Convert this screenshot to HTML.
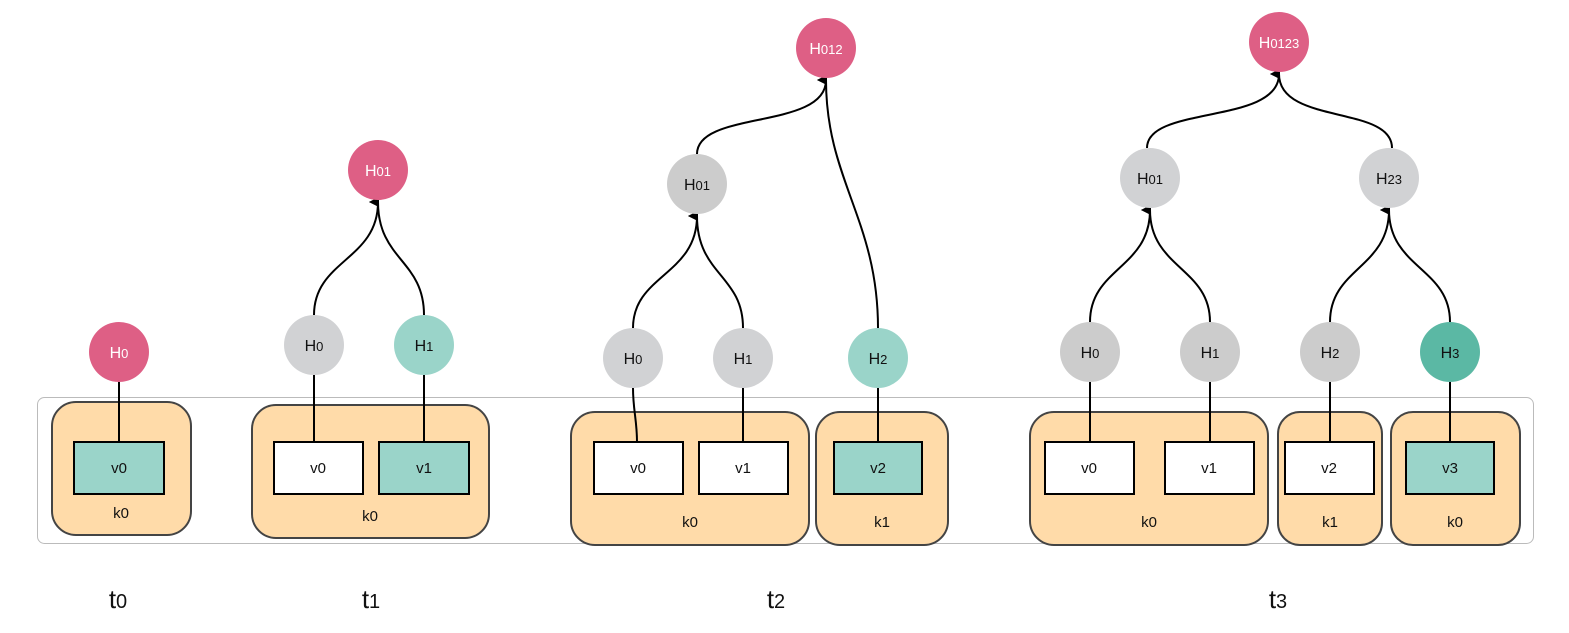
<!DOCTYPE html>
<html><head><meta charset="utf-8"><style>body{margin:0;background:#fff}svg{display:block}text{font-family:"Liberation Sans",sans-serif}</style></head><body>
<svg width="1569" height="633" viewBox="0 0 1569 633" xmlns="http://www.w3.org/2000/svg">
<defs><marker id="a" markerWidth="10" markerHeight="10" refX="5" refY="9" orient="auto" markerUnits="userSpaceOnUse" viewBox="0 0 10 10"><path d="M0,10 L5,0 L10,10 Z" fill="#000"/></marker></defs>
<rect x="37.5" y="397.5" width="1496" height="146" rx="7" fill="none" stroke="#bbb"/>
<g fill="#FFDBA9" stroke="#444" stroke-width="2">
<rect x="52" y="402" width="139" height="133" rx="24"/>
<rect x="252" y="405" width="237" height="133" rx="24"/>
<rect x="571" y="412" width="238" height="133" rx="24"/>
<rect x="816" y="412" width="132" height="133" rx="24"/>
<rect x="1030" y="412" width="238" height="133" rx="24"/>
<rect x="1278" y="412" width="104" height="133" rx="22"/>
<rect x="1391" y="412" width="129" height="133" rx="22"/>
</g>
<g stroke="#000" stroke-width="2" fill="none">
<line x1="119" y1="382" x2="119" y2="442"/>
<line x1="314" y1="375" x2="314" y2="442"/><line x1="424" y1="375" x2="424" y2="442"/>
<path d="M633,388 C633,410 637,420 637,442"/><line x1="743" y1="388" x2="743" y2="442"/><line x1="878" y1="388" x2="878" y2="442"/>
<line x1="1090" y1="382" x2="1090" y2="442"/><line x1="1210" y1="382" x2="1210" y2="442"/><line x1="1330" y1="382" x2="1330" y2="442"/><line x1="1450" y1="382" x2="1450" y2="442"/>
<g marker-end="url(#a)">
<path d="M314,315 C314,260 378,260 378,202"/><path d="M424,315 C424,260 378,260 378,202"/>
<path d="M633,328 C633,275 697,275 697,216"/><path d="M743,328 C743,275 697,275 697,216"/>
<path d="M697,154 C697,110 826,130 826,80"/><path d="M878,328 C878,220 826,180 826,80"/>
<path d="M1090,322 C1090,268 1150,268 1150,210"/><path d="M1210,322 C1210,268 1150,268 1150,210"/>
<path d="M1330,322 C1330,268 1389,268 1389,210"/><path d="M1450,322 C1450,268 1389,268 1389,210"/>
<path d="M1147,148 C1147,105 1279,125 1279,74"/><path d="M1392,148 C1392,105 1279,125 1279,74"/>
</g></g>
<g stroke="#000" stroke-width="2">
<rect x="74" y="442" width="90" height="52" fill="#9AD4C9"/>
<rect x="274" y="442" width="89" height="52" fill="#fff"/><rect x="379" y="442" width="90" height="52" fill="#9AD4C9"/>
<rect x="594" y="442" width="89" height="52" fill="#fff"/><rect x="699" y="442" width="89" height="52" fill="#fff"/>
<rect x="834" y="442" width="88" height="52" fill="#9AD4C9"/>
<rect x="1045" y="442" width="89" height="52" fill="#fff"/><rect x="1165" y="442" width="89" height="52" fill="#fff"/>
<rect x="1285" y="442" width="89" height="52" fill="#fff"/><rect x="1406" y="442" width="88" height="52" fill="#9AD4C9"/>
</g>
<g>
<circle cx="119" cy="352" r="30" fill="#DE5F85"/>
<circle cx="378" cy="170" r="30" fill="#DE5F85"/><circle cx="314" cy="345" r="30" fill="#D1D2D4"/><circle cx="424" cy="345" r="30" fill="#9AD4C9"/>
<circle cx="826" cy="48" r="30" fill="#DE5F85"/><circle cx="697" cy="184" r="30" fill="#CCCCCC"/><circle cx="633" cy="358" r="30" fill="#D1D2D4"/><circle cx="743" cy="358" r="30" fill="#D1D2D4"/><circle cx="878" cy="358" r="30" fill="#9AD4C9"/>
<circle cx="1279" cy="42" r="30" fill="#DE5F85"/><circle cx="1150" cy="178" r="30" fill="#D1D2D4"/><circle cx="1389" cy="178" r="30" fill="#D1D2D4"/>
<circle cx="1090" cy="352" r="30" fill="#CCCCCC"/><circle cx="1210" cy="352" r="30" fill="#CCCCCC"/><circle cx="1330" cy="352" r="30" fill="#CCCCCC"/><circle cx="1450" cy="352" r="30" fill="#5BB8A4"/>
</g>
<g font-size="16" text-anchor="middle" fill="#111">
<text x="119" y="358" fill="#fff">H<tspan font-size="13">0</tspan></text>
<text x="378" y="176" fill="#fff">H<tspan font-size="13">01</tspan></text>
<text x="314" y="351">H<tspan font-size="13">0</tspan></text><text x="424" y="351">H<tspan font-size="13">1</tspan></text>
<text x="826" y="54" fill="#fff">H<tspan font-size="13">012</tspan></text>
<text x="697" y="190">H<tspan font-size="13">01</tspan></text>
<text x="633" y="364">H<tspan font-size="13">0</tspan></text><text x="743" y="364">H<tspan font-size="13">1</tspan></text><text x="878" y="364">H<tspan font-size="13">2</tspan></text>
<text x="1279" y="48" fill="#fff">H<tspan font-size="13">0123</tspan></text>
<text x="1150" y="184">H<tspan font-size="13">01</tspan></text><text x="1389" y="184">H<tspan font-size="13">23</tspan></text>
<text x="1090" y="358">H<tspan font-size="13">0</tspan></text><text x="1210" y="358">H<tspan font-size="13">1</tspan></text><text x="1330" y="358">H<tspan font-size="13">2</tspan></text><text x="1450" y="358">H<tspan font-size="13">3</tspan></text>
<g font-size="15">
<text x="119" y="473">v0</text><text x="318" y="473">v0</text><text x="424" y="473">v1</text>
<text x="638" y="473">v0</text><text x="743" y="473">v1</text><text x="878" y="473">v2</text>
<text x="1089" y="473">v0</text><text x="1209" y="473">v1</text><text x="1329" y="473">v2</text><text x="1450" y="473">v3</text>
<text x="121" y="518">k0</text><text x="370" y="521">k0</text><text x="690" y="527">k0</text><text x="882" y="527">k1</text>
<text x="1149" y="527">k0</text><text x="1330" y="527">k1</text><text x="1455" y="527">k0</text>
</g>
<g font-size="26">
<text x="118" y="608">t<tspan font-size="20">0</tspan></text><text x="371" y="608">t<tspan font-size="20">1</tspan></text>
<text x="776" y="608">t<tspan font-size="20">2</tspan></text><text x="1278" y="608">t<tspan font-size="20">3</tspan></text>
</g>
</g>
</svg>
</body></html>
